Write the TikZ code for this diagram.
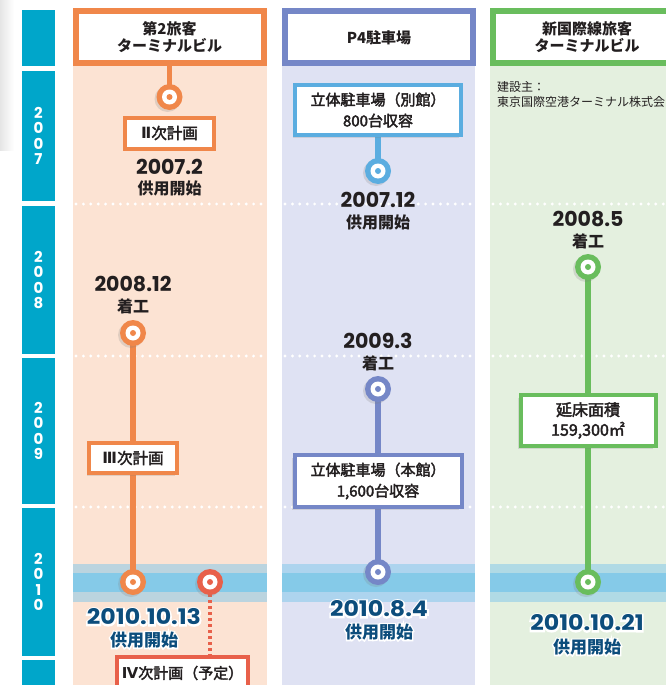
\documentclass[tikz,border=0pt]{standalone}
\usepackage{fontspec}
\setmainfont{Noto Sans CJK JP}
\newfontfamily\medfont{Noto Sans CJK JP}[FakeBold=2.5]
\newfontfamily\romfont{DejaVu Sans}
\newfontfamily\numfont{Poppins}[Numbers=Monospaced]
\newfontfamily\bnumfont{Poppins}[FakeStretch=1.1]
\newfontfamily\halonum{Poppins}[FakeStretch=1.1, BoldFeatures={FakeBold=16}]
\newfontfamily\halocjk{Noto Sans CJK JP}[BoldFeatures={FakeBold=16}]
\usetikzlibrary{shadows}
\definecolor{txt}{HTML}{231F20}
\definecolor{side}{HTML}{00A6CA}
\definecolor{org}{HTML}{F0874A}
\definecolor{orgbg}{HTML}{FCE3D3}
\definecolor{redo}{HTML}{E8604A}
\definecolor{slate}{HTML}{7587C7}
\definecolor{lblue}{HTML}{5BADE0}
\definecolor{bluebg}{HTML}{DFE2F3}
\definecolor{grn}{HTML}{69BD5D}
\definecolor{grnbg}{HTML}{E4F0DF}
\definecolor{datblue}{HTML}{0C4D7C}
\definecolor{bandout}{RGB}{130,200,235}
\definecolor{bandin}{HTML}{85CAE8}
\pgfdeclarelayer{bg}
\pgfdeclarelayer{lines}
\pgfsetlayers{bg,lines,main}
\newcommand{\hnum}[1]{\rlap{\textcolor{white}{\halonum #1}}#1}
\newcommand{\hcjk}[1]{\rlap{\textcolor{white}{\halocjk #1}}#1}
\newcommand{\rn}[1]{{\romfont\bfseries #1}}
\begin{document}
\begin{tikzpicture}[x=1pt,y=-1pt,
  hdr/.style={draw=#1, line width=6pt, fill=white, minimum width=188pt, minimum height=52pt, inner sep=0pt, align=center, text=txt, font=\bfseries\fontsize{15}{17}\selectfont},
  infobox/.style={draw=#1, line width=4pt, fill=white, inner sep=0pt, align=center, text=txt, drop shadow={shadow xshift=-2.5pt, shadow yshift=-2.5pt, opacity=0.22}},
  ring/.style={circle, fill=#1, minimum size=26pt, inner sep=0pt, drop shadow={shadow xshift=-2pt, shadow yshift=-2pt, opacity=0.22},
    path picture={\fill[white] (path picture bounding box.center) circle (7.5pt);
                  \fill[#1] (path picture bounding box.center) circle (3pt);}},
  conn/.style={draw=#1, line width=5.5pt},
  datenum/.style={inner sep=0pt, text=txt, font=\numfont\bfseries\fontsize{20.5}{21}\selectfont},
  datelbl/.style={inner sep=0pt, text=txt, font=\bfseries\fontsize{16}{17}\selectfont},
  bdatenum/.style={inner sep=0pt, text=datblue, font=\bnumfont\bfseries\fontsize{21.5}{22}\selectfont},
  bdatelbl/.style={inner sep=0pt, text=datblue, font=\bfseries\fontsize{17}{18}\selectfont},
  year/.style={inner sep=0pt, text=white, align=center, font=\numfont\bfseries\fontsize{15}{15.3}\selectfont},
  dots/.style={white, line width=3.2pt, line cap=round, dash pattern=on 0pt off 7.4pt}
]
\useasboundingbox (0,0) rectangle (665,685);
\begin{pgfonlayer}{bg}
  \fill[white] (0,0) rectangle (665,685);
  \shade[left color=black!10, right color=white] (0,0) rectangle (14,150);
  % year sidebar
  \fill[side] (22,10) rectangle (55,66);
  \fill[side] (22,71) rectangle (55,201);
  \fill[side] (22,206) rectangle (55,354);
  \fill[side] (22,358) rectangle (55,504);
  \fill[side] (22,508) rectangle (55,656);
  \fill[side] (22,660) rectangle (55,690);
  % columns
  \fill[orgbg] (73,8) rectangle (267,690);
  \fill[bluebg] (282,8) rectangle (475,690);
  \fill[grnbg] (490,8) rectangle (690,690);
  % band
  \foreach \a/\b in {73/267,282/475,490/690}{
    \fill[bandout, opacity=0.53] (\a,564) rectangle (\b,602);
    \fill[bandin] (\a,573) rectangle (\b,592);
  }
  % dotted year separators
  \foreach \yy in {204,356,507}{
    \draw[dots] (76,\yy) -- (265,\yy);
    \draw[dots] (285,\yy) -- (474,\yy);
    \draw[dots] (493,\yy) -- (665,\yy);
  }
\end{pgfonlayer}
% year labels
\node[year] (y07) at (38.5,136) {2\\0\\0\\7};
\node[year] (y08) at (38.5,280) {2\\0\\0\\8};
\node[year] (y09) at (38.5,431) {2\\0\\0\\9};
\node[year] (y10) at (38.5,582) {2\\0\\1\\0};
% headers
\node[hdr=org] (h1) at (169.5,37.5) {第2旅客\\ターミナルビル};
\node[hdr=slate] (h2) at (379,37.5) {P4駐車場};
\node[hdr=grn] (h3) at (587,37.5) {新国際線旅客\\ターミナルビル};
% orange column
\node[ring=org] (c1) at (169.5,97) {};
\node[infobox=org, minimum width=89pt, minimum height=31pt, font=\medfont\fontsize{15.5}{18}\selectfont] (b2) at (169.5,133) {\rn{Ⅱ}次計画};
\node[datenum] (d1n) at (169.5,167) {2007.2};
\node[datelbl] (d1l) at (169.5,188.5) {供用開始};
\node[datenum] (d2n) at (133,284) {2008.12};
\node[datelbl] (d2l) at (133,306) {着工};
\node[ring=org] (c2) at (133,333) {};
\node[infobox=org, minimum width=88pt, minimum height=30pt, font=\medfont\fontsize{15.5}{18}\selectfont] (b3) at (133,458) {\rn{Ⅲ}次計画};
\node[ring=org] (c3) at (133,582) {};
\node[ring=redo] (c4) at (210,582) {};
\node[infobox=redo, minimum width=131pt, minimum height=32pt, font=\medfont\fontsize{15}{18}\selectfont] (b4) at (182.5,673) {\rn{Ⅳ}次計画（予定）};
\node[bdatenum] (d3n) at (144,617) {\hnum{2010.10.13}};
\node[bdatelbl] (d3l) at (144,640) {\hcjk{供用開始}};
% blue column
\node[infobox=lblue, minimum width=166pt, minimum height=50pt, font=\medfont\fontsize{15}{21}\selectfont] (b5) at (378,110) {立体駐車場（別館）\\800台収容};
\node[ring=lblue] (c5) at (378,171) {};
\node[datenum] (d4n) at (378,199.5) {2007.12};
\node[datelbl] (d4l) at (378,222) {供用開始};
\node[datenum] (d5n) at (378,340.5) {2009.3};
\node[datelbl] (d5l) at (378,363) {着工};
\node[ring=slate] (c6) at (378,389) {};
\node[infobox=slate, minimum width=167pt, minimum height=52pt, font=\medfont\fontsize{15}{21}\selectfont] (b6) at (378,481) {立体駐車場（本館）\\1,600台収容};
\node[ring=slate] (c7) at (378,572) {};
\node[bdatenum] (d6n) at (379,609) {\hnum{2010.8.4}};
\node[bdatelbl] (d6l) at (379,632) {\hcjk{供用開始}};
% green column
\node[inner sep=0pt, anchor=north west, align=left, text=txt, font=\fontsize{12}{15}\selectfont] (note) at (497,81) {建設主：\\東京国際空港ターミナル株式会};
\node[datenum] (d7n) at (588,219) {2008.5};
\node[datelbl] (d7l) at (588,241) {着工};
\node[ring=grn] (c8) at (588,267) {};
\node[infobox=grn, minimum width=135pt, minimum height=51pt, font=\medfont\fontsize{16}{20}\selectfont] (b7) at (588,420.5) {延床面積\\159,300㎡};
\node[ring=grn] (c9) at (588,582) {};
\node[bdatenum] (d8n) at (587,623) {\hnum{2010.10.21}};
\node[bdatelbl] (d8l) at (587,647) {\hcjk{供用開始}};
% connectors
\begin{pgfonlayer}{lines}
  \draw[conn=org] (h1.south) -- (c1.center);
  \draw[conn=org] (c2.center) -- (b3.north);
  \draw[conn=org] (b3.south) -- (c3.center);
  \draw[draw=redo, line width=4pt, dash pattern=on 3pt off 3pt] (c4.center) -- (c4.center |- b4.north);
  \draw[conn=lblue] (b5.south) -- (c5.center);
  \draw[conn=slate] (c6.center) -- (b6.north);
  \draw[conn=slate] (b6.south) -- (c7.center);
  \draw[conn=grn] (c8.center) -- (b7.north);
  \draw[conn=grn] (b7.south) -- (c9.center);
\end{pgfonlayer}
\end{tikzpicture}
\end{document}
